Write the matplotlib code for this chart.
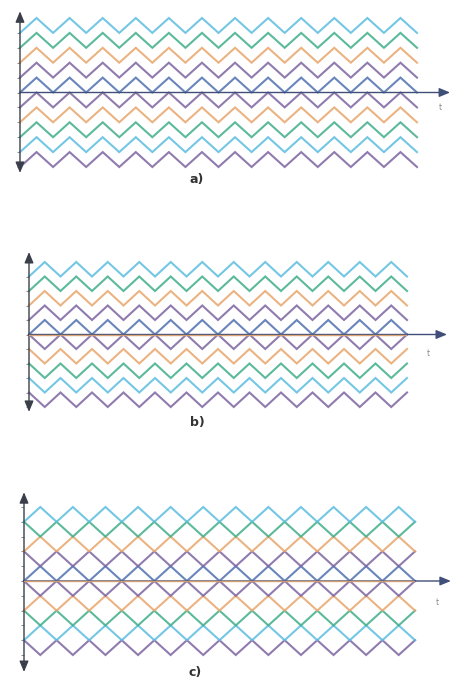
import numpy as np
import matplotlib
matplotlib.use("Agg")
import matplotlib.pyplot as plt

# carriers: lower edge of each band, bottom to top
band_bottoms = [-5, -4, -3, -2, -1, 0, 1, 2, 3, 4]
carrier_colors = ['#7d64a0', '#5cbde0', '#3fae8a', '#e8a66c', '#7d64a0',
                  '#4f70b0', '#7d64a0', '#e8a66c', '#3fae8a', '#5cbde0']
n_periods = 12

# 0 = carrier starts at its trough, 1 = starts at its peak
phase_a = [0, 0, 0, 0, 0, 0, 0, 0, 0, 0]   # PD
phase_b = [1, 1, 1, 1, 1, 0, 0, 0, 0, 0]   # POD
phase_c = [1, 0, 1, 0, 1, 0, 1, 0, 1, 0]   # APOD

levels = list(range(-5, 6))

W, H = 454, 682
fig = plt.figure(figsize=(W / 100, H / 100), dpi=100)

# panel geometry in pixels: t=0 x, t=12 x, level 5 y, level -5 y
panels = [
    dict(phase=phase_a, px=(20, 417, 18, 167), yarr=(-5.4, 5.45), xarr=13.0,
         tpos=(12.7, -1.0), label='a)', lpos=(5.35, -5.85), zero_line=False),
    dict(phase=phase_b, px=(29, 407, 262, 407), yarr=(-5.34, 5.69), xarr=13.27,
         tpos=(12.67, -1.28), label='b)', lpos=(5.33, -6.1), zero_line=True),
    dict(phase=phase_c, px=(24, 415, 507, 655), yarr=(-6.15, 6.0), xarr=13.1,
         tpos=(12.68, -1.42), label='c)', lpos=(5.25, -6.2), zero_line=True),
]

vertex_t = np.arange(0, n_periods + 0.5, 0.5)

for p in panels:
    x0, x1, yt, yb = p['px']
    ax = fig.add_axes([x0 / W, 1 - yb / H, (x1 - x0) / W, (yb - yt) / H])
    ax.set_xlim(0, n_periods)
    ax.set_ylim(-5, 5)
    for s in ['top', 'right', 'bottom']:
        ax.spines[s].set_visible(False)
    ax.spines['left'].set_color('none')
    ax.set_xticks([])
    ax.set_yticks(levels)
    ax.tick_params(axis='y', length=2.5, width=0.6, color='#777777', labelleft=False)
    ax.patch.set_alpha(0)

    # axes with arrows
    ax.annotate('', xy=(0, p['yarr'][1]), xytext=(0, p['yarr'][0]),
                arrowprops=dict(arrowstyle='<|-|>,head_length=0.65,head_width=0.27',
                                color='#3a3f4a', lw=1.0, shrinkA=0, shrinkB=0,
                                mutation_scale=10),
                annotation_clip=False)
    ax.annotate('', xy=(p['xarr'], 0), xytext=(0, 0),
                arrowprops=dict(arrowstyle='-|>,head_length=0.65,head_width=0.27',
                                color='#3f4f78', lw=1.0, shrinkA=0, shrinkB=0,
                                mutation_scale=10),
                annotation_clip=False)

    for bottom, ph, col in zip(band_bottoms, p['phase'], carrier_colors):
        vals = np.array([(i + ph) % 2 for i in range(len(vertex_t))])
        ax.plot(vertex_t, bottom + vals, color=col, lw=1.5, alpha=0.85,
                solid_joinstyle='miter', clip_on=False)

    if p['zero_line']:
        ax.plot([0, n_periods], [0, 0], color='#d9a070', lw=1.0, alpha=0.95,
                zorder=5)

    ax.text(p['tpos'][0], p['tpos'][1], 't', fontsize=5.5, color='#888888',
            ha='center', va='center')
    ax.text(p['lpos'][0], p['lpos'][1], p['label'], fontsize=9, color='#333333',
            fontweight='bold', ha='center', va='center')

fig.savefig('out.png', dpi=100, facecolor='white')
